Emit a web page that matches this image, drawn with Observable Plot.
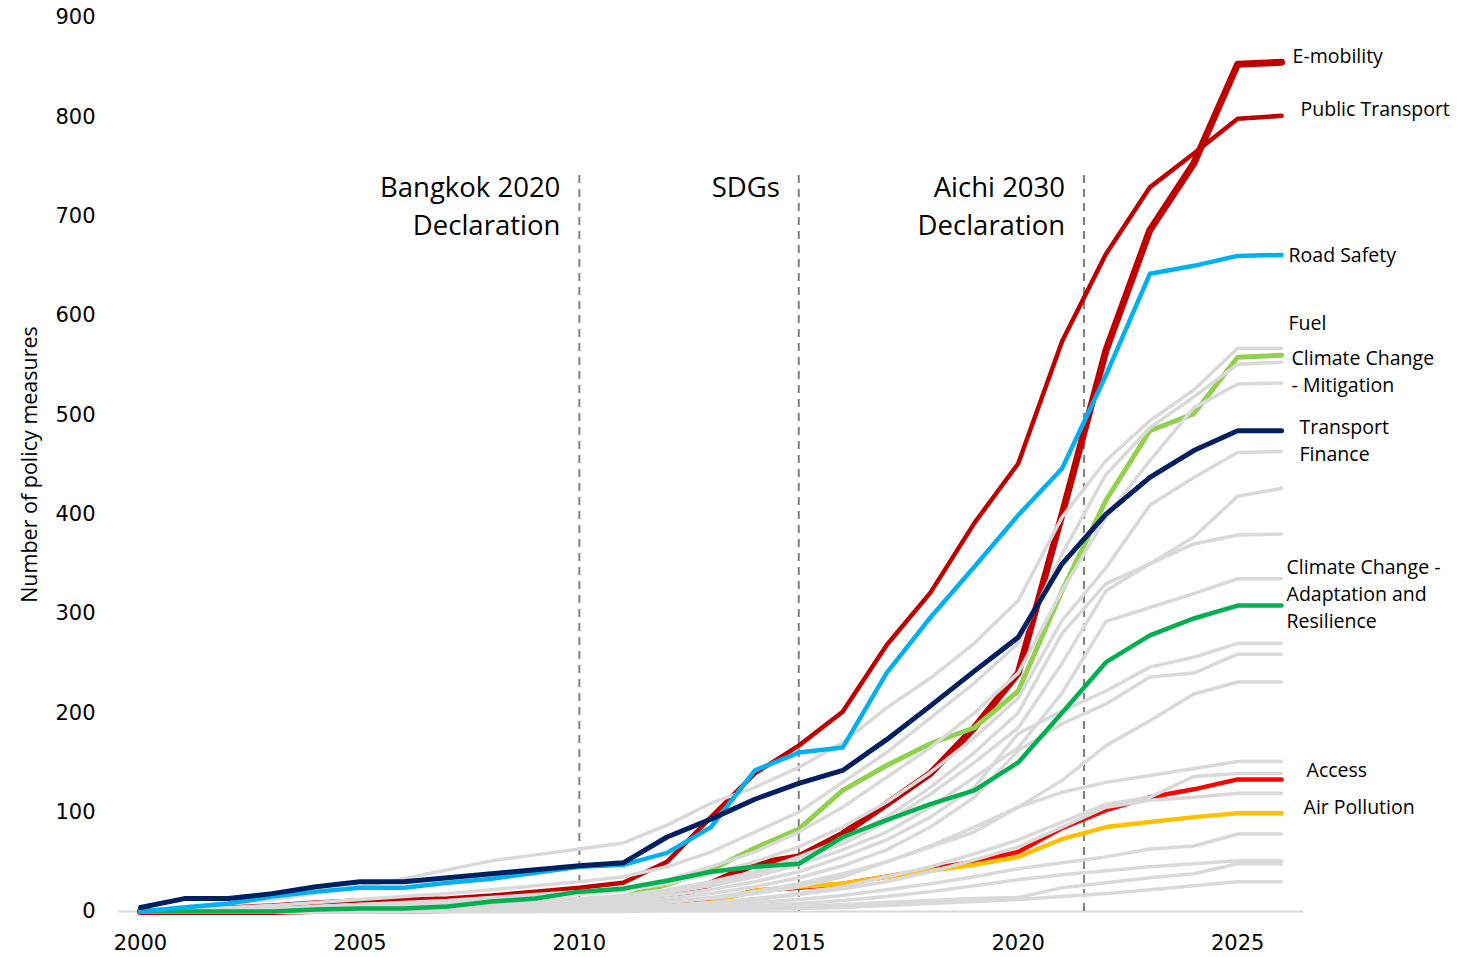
<!DOCTYPE html>
<html>
<head>
<meta charset="utf-8">
<script src="https://cdn.jsdelivr.net/npm/d3@7"></script>
<script src="https://cdn.jsdelivr.net/npm/@observablehq/plot@0.6"></script>
<style>
  html, body { margin: 0; padding: 0; background: #fff; }
  #chart { width: 1483px; height: 957px; }
</style>
</head>
<body>
<div id="chart"></div>
<script>
// ---- Data ----
const years = [2000,2001,2002,2003,2004,2005,2006,2007,2008,2009,2010,2011,2012,2013,2014,2015,2016,2017,2018,2019,2020,2021,2022,2023,2024,2025,2026];

const eMobility        = [0,0,0,0,1,1,1,2,2,3,4,4,12,28,48,55,78,108,139,185,240,400,565,686,753,853,855];
const publicTransport  = [0,2,4,6,9,11,12,13,16,20,24,29,50,95,139,167,201,268,321,391,451,574,662,729,763,798,801];
const roadSafety       = [0,4,8,15,20,24,24,29,33,39,45,47,59,85,142,160,165,240,296,347,399,446,540,642,650,660,661];
const transportFinance = [4,13,13,18,25,30,30,34,38,42,46,49,75,93,113,129,142,173,207,242,276,350,400,437,464,484,484];
const ccMitigation     = [0,0,0,0,0,1,1,1,2,5,10,15,27,42,64,83,122,147,169,185,222,323,414,484,501,558,560];
const ccAdaptation     = [0,0,0,0,2,3,3,5,10,13,20,23,31,40,45,48,75,92,108,122,150,200,251,278,295,308,308];
const access           = [0,0,0,0,0,0,1,1,2,2,3,4,6,10,21,24,28,35,43,50,60,84,102,115,123,133,133];
const airPollution     = [0,0,0,0,0,0,0,1,1,2,2,3,5,9,21,25,28,35,41,47,55,73,85,90,95,99,99];

// other policy areas (grey)
const fuel  = [0,5,8,12,18,25,33,42,51,57,63,69,87,109,125,145,170,205,235,270,313,397,454,494,525,567,567];
const grey2 = [0,2,4,6,9,12,15,18,22,26,30,35,45,60,80,100,130,160,195,230,270,360,440,487,518,551,553];
const grey3 = [0,1,2,3,5,7,9,11,14,17,20,24,32,45,60,80,105,135,165,200,240,323,397,454,507,531,532];
const grey4 = [0,1,2,3,4,6,8,10,12,14,17,21,28,38,50,65,85,110,140,175,215,293,346,409,437,462,463];
const grey5 = [0,0,1,2,3,4,5,7,9,11,13,16,22,30,40,55,72,95,125,160,200,280,330,350,377,418,426];
const grey6 = [0,0,1,1,2,3,4,6,8,10,12,15,20,28,38,52,68,90,118,150,185,250,323,350,370,379,380];
const grey7 = [0,0,0,1,2,3,4,5,7,9,11,14,19,26,35,47,62,80,105,135,165,220,292,306,320,335,335];
const grey8 = [0,0,0,1,1,2,3,4,5,7,9,12,16,22,30,40,55,72,95,125,179,202,222,246,256,270,270];
const grey9 = [0,0,0,0,1,1,2,3,4,5,7,9,13,18,25,34,46,62,85,115,162,189,209,236,240,259,259];
const grey10 = [0,0,0,0,0,1,1,2,3,4,5,7,10,14,20,28,38,50,66,85,105,132,167,192,219,231,231];
const grey11 = [0,0,0,0,0,1,1,2,2,3,4,6,9,13,18,25,35,50,65,80,105,120,130,137,144,151,151];
const grey12 = [0,0,0,0,0,0,1,1,2,2,3,4,6,9,13,18,25,35,45,58,72,90,108,115,136,139,139];
const grey13 = [0,0,0,0,0,0,0,1,1,2,2,3,5,8,12,17,23,30,40,52,65,85,105,112,115,119,119];
const grey14 = [0,0,0,0,0,0,0,0,1,1,2,3,4,6,9,12,16,22,28,35,43,49,55,63,66,78,78];
const grey15 = [0,0,0,0,0,0,0,0,0,1,1,2,3,4,6,8,11,15,20,26,32,37,41,45,48,51,51];
const grey16 = [0,0,0,0,0,0,0,0,0,0,1,1,2,3,4,5,7,9,11,13,14,24,29,34,38,48,48];
const grey17 = [0,0,0,0,0,0,0,0,0,0,0,0,1,1,2,3,4,6,8,10,12,15,18,22,26,30,30];

const greyNames = ["Fuel","g2","g3","g4","g5","g6","g7","g8","g9","g10","g11","g12","g13","g14","g15","g16","g17"];
const greyValues = [fuel,grey2,grey3,grey4,grey5,grey6,grey7,grey8,grey9,grey10,grey11,grey12,grey13,grey14,grey15,grey16,grey17];

// drawn beneath the grey lines
const underNames = ["E-mobility","Public Transport","Climate Change - Mitigation","Access","Air Pollution"];
const underValues = [eMobility, publicTransport, ccMitigation, access, airPollution];
// drawn above the grey lines
const overNames = ["Climate Change - Adaptation and Resilience","Road Safety","Transport Finance"];
const overValues = [ccAdaptation, roadSafety, transportFinance];

const events = [2010, 2015, 2021.5];
const eventLabels = ["Bangkok 2020\nDeclaration", "SDGs", "Aichi 2030\nDeclaration"];

const yTicks = [0,100,200,300,400,500,600,700,800,900];
const xTicks = [2000,2005,2010,2015,2020,2025];

// ---- Styles ----
const colors = {
  "E-mobility": "#C00000",
  "Public Transport": "#C00000",
  "Road Safety": "#00B0F0",
  "Transport Finance": "#002060",
  "Climate Change - Mitigation": "#92D050",
  "Climate Change - Adaptation and Resilience": "#00B050",
  "Access": "#FF0000",
  "Air Pollution": "#FFC000"
};
const widths = {
  "E-mobility": 7,
  "Public Transport": 4.5,
  "Road Safety": 4.5,
  "Transport Finance": 5,
  "Climate Change - Mitigation": 5,
  "Climate Change - Adaptation and Resilience": 4.5,
  "Access": 4.5,
  "Air Pollution": 4.5
};

const toRows = (name, vals) => vals.map((v, i) => ({series: name, year: years[i], value: v}));
const greyRows = greyNames.flatMap((n, i) => toRows(n, greyValues[i]));

const FONT = "'Open Sans', sans-serif";
const TICKFONT = "'DejaVu Sans', sans-serif";

// labels: [text, series values, dx, dy]
const labelSpecs = [
  ["E-mobility", eMobility, 11, -8],
  ["Public Transport", publicTransport, 19, -8],
  ["Road Safety", roadSafety, 7, -2],
  ["Fuel", fuel, 7, -27],
  ["Climate Change\n- Mitigation", ccMitigation, 10, 15],
  ["Transport\nFinance", transportFinance, 18, 8],
  ["Climate Change -\nAdaptation and\nResilience", ccAdaptation, 5, -13],
  ["Access", access, 25, -11],
  ["Air Pollution", airPollution, 22, -8]
];

const lineMark = (n, vals) =>
  Plot.line(toRows(n, vals), {x: "year", y: "value", stroke: colors[n], strokeWidth: widths[n], strokeLinejoin: "round", strokeLinecap: "round"});

const marks = [
  Plot.ruleY([0], {stroke: "#D9D9D9", strokeWidth: 2}),
  Plot.ruleX(events, {x: d => d, y1: 0, y2: 745, stroke: "#808080", strokeWidth: 2, strokeDasharray: "8,6"}),
  Plot.text(events, {x: d => d, y: 746, text: (d, i) => eventLabels[i], dx: -19, textAnchor: "end", lineAnchor: "top", lineHeight: 1.38, fontSize: 27.5, fill: "#000", fontFamily: FONT}),
  ...underNames.map((n, i) => lineMark(n, underValues[i])),
  Plot.line(greyRows, {x: "year", y: "value", z: "series", stroke: "#D9D9D9", strokeWidth: 3.5, strokeLinejoin: "round", strokeLinecap: "round"}),
  ...overNames.map((n, i) => lineMark(n, overValues[i])),
  ...labelSpecs.map(([t, vals, dx, dy]) =>
    Plot.text([t], {x: years[years.length - 1], y: vals[vals.length - 1], text: d => d, dx, dy, textAnchor: "start", lineAnchor: "middle", lineHeight: 1.38, fontSize: 19.5, fill: "#000", fontFamily: FONT})
  ),
  Plot.axisY(yTicks, {tickSize: 0, tickPadding: 23, fontSize: 21, label: null, fontFamily: TICKFONT}),
  Plot.axisX(xTicks, {tickSize: 0, tickPadding: 24, fontSize: 21, label: null, tickFormat: d => String(d), fontFamily: TICKFONT}),
  Plot.text(["Number of policy measures"], {frameAnchor: "left", dx: -88, text: d => d, rotate: -90, textAnchor: "middle", fontSize: 21.5, fontFamily: FONT, fill: "#000"})
];

const chart = Plot.plot({
  width: 1483,
  height: 957,
  marginLeft: 118,
  marginRight: 180,
  marginTop: 17,
  marginBottom: 46,
  x: {domain: [1999.5, 2026.5]},
  y: {domain: [0, 900]},
  style: {background: "#fff", color: "#000", fontFamily: FONT},
  marks
});
document.getElementById("chart").appendChild(chart);
</script>
</body>
</html>
